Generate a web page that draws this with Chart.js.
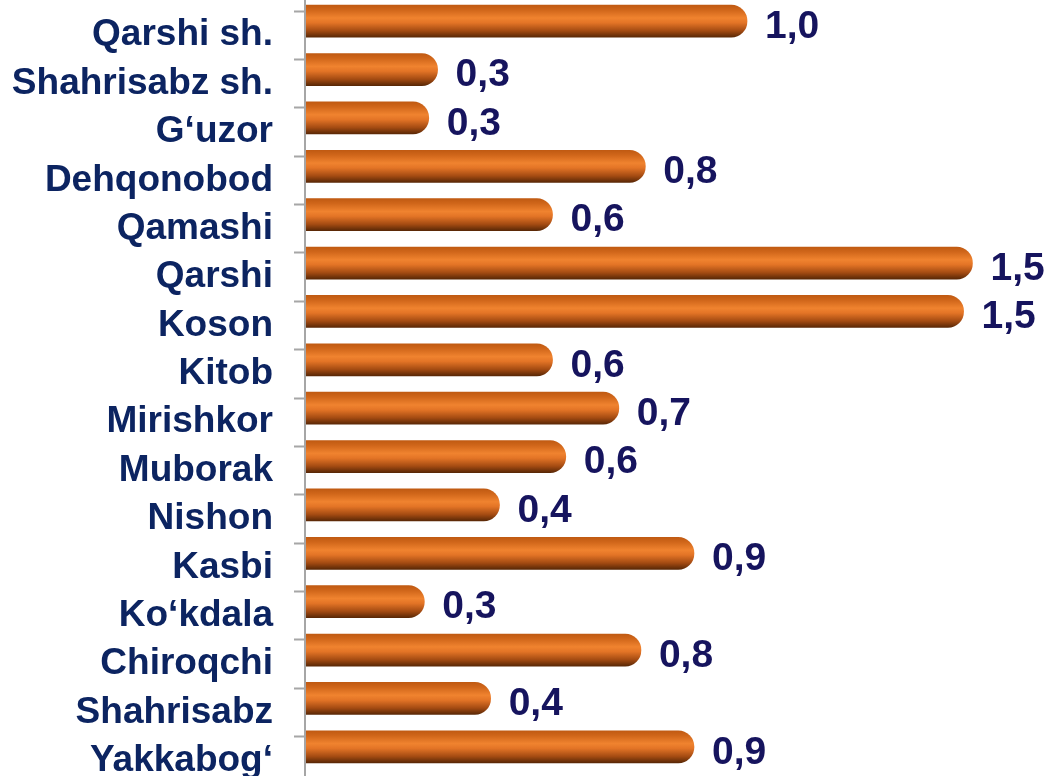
<!DOCTYPE html>
<html>
<head>
<meta charset="utf-8">
<script src="https://cdn.jsdelivr.net/npm/chart.js@4.4.1/dist/chart.umd.min.js"></script>
<style>
  html, body { margin: 0; padding: 0; background: #fff; overflow: hidden; }
  #wrap { position: absolute; left: 0; top: -63px; width: 1052px; height: 894px; }
</style>
</head>
<body>
<div id="wrap"><canvas id="chart" width="1052" height="894"></canvas></div>
<script>
// districts, top to bottom
const districts = [
  "Qarshi sh.", "Shahrisabz sh.", "G\u2018uzor", "Dehqonobod", "Qamashi",
  "Qarshi", "Koson", "Kitob", "Mirishkor", "Muborak",
  "Nishon", "Kasbi", "Ko\u2018kdala", "Chiroqchi", "Shahrisabz", "Yakkabog\u2018"
];
const values = [
  1.0, 0.30, 0.28, 0.77, 0.56,
  1.51, 1.49, 0.56, 0.71, 0.59,
  0.44, 0.88, 0.27, 0.76, 0.42, 0.88
];

function barGradient(context) {
  const chart = context.chart;
  if (!chart.chartArea) return "#e8762b";
  const y = chart.scales.y.getPixelForValue(context.dataIndex);
  const g = chart.ctx.createLinearGradient(0, y - 16, 0, y + 16);
  g.addColorStop(0, "#c05a12");
  g.addColorStop(0.15, "#d0661a");
  g.addColorStop(0.4, "#f0832f");
  g.addColorStop(0.55, "#e37426");
  g.addColorStop(0.8, "#a44b12");
  g.addColorStop(1, "#5a2806");
  return g;
}

// axis line and tick marks
const axisPlugin = {
  id: "axisLine",
  afterDatasetsDraw(chart) {
    const ctx = chart.ctx;
    const y = chart.scales.y;
    const x0 = chart.scales.x.getPixelForValue(0);
    const step = y.getPixelForValue(1) - y.getPixelForValue(0);
    ctx.save();
    ctx.strokeStyle = "#a6a6a6";
    ctx.lineWidth = 2;
    ctx.beginPath();
    ctx.moveTo(x0, 0);
    ctx.lineTo(x0, chart.height);
    for (let i = 0; i < districts.length; i++) {
      const ty = Math.round(y.getPixelForValue(i) - step * 0.22) + 0.5;
      ctx.moveTo(x0 - 11, ty);
      ctx.lineTo(x0, ty);
    }
    ctx.stroke();
    ctx.restore();
  }
};

// value labels at bar ends
const valueLabels = {
  id: "valueLabels",
  afterDatasetsDraw(chart) {
    const ctx = chart.ctx;
    const meta = chart.getDatasetMeta(0);
    ctx.save();
    ctx.font = "bold 39px 'Liberation Sans', Arial, sans-serif";
    ctx.fillStyle = "#16145e";
    ctx.textAlign = "left";
    ctx.textBaseline = "middle";
    meta.data.forEach(function (bar, i) {
      const txt = values[i].toFixed(1).replace(".", ",");
      ctx.fillText(txt, bar.x + 18, bar.y + 6);
    });
    ctx.restore();
  }
};

new Chart(document.getElementById("chart").getContext("2d"), {
  type: "bar",
  data: {
    labels: districts,
    datasets: [{
      data: values,
      backgroundColor: barGradient,
      borderWidth: 0,
      borderRadius: 16,
      borderSkipped: "start",
      barThickness: 32
    }]
  },
  options: {
    indexAxis: "y",
    responsive: false,
    animation: false,
    devicePixelRatio: 1,
    layout: { padding: { top: 60, bottom: 60, left: 0, right: 0 } },
    plugins: {
      legend: { display: false },
      tooltip: { enabled: false }
    },
    scales: {
      x: { display: false, min: 0, max: 1.69 },
      y: {
        grid: { display: false },
        border: { display: false },
        afterFit: function (scale) { scale.width = 305; },
        ticks: {
          padding: 24,
          labelOffset: 14,
          color: "#0c2461",
          font: { family: "'Liberation Sans', Arial, sans-serif", size: 37, weight: "bold" }
        }
      }
    }
  },
  plugins: [axisPlugin, valueLabels]
});
</script>
</body>
</html>
